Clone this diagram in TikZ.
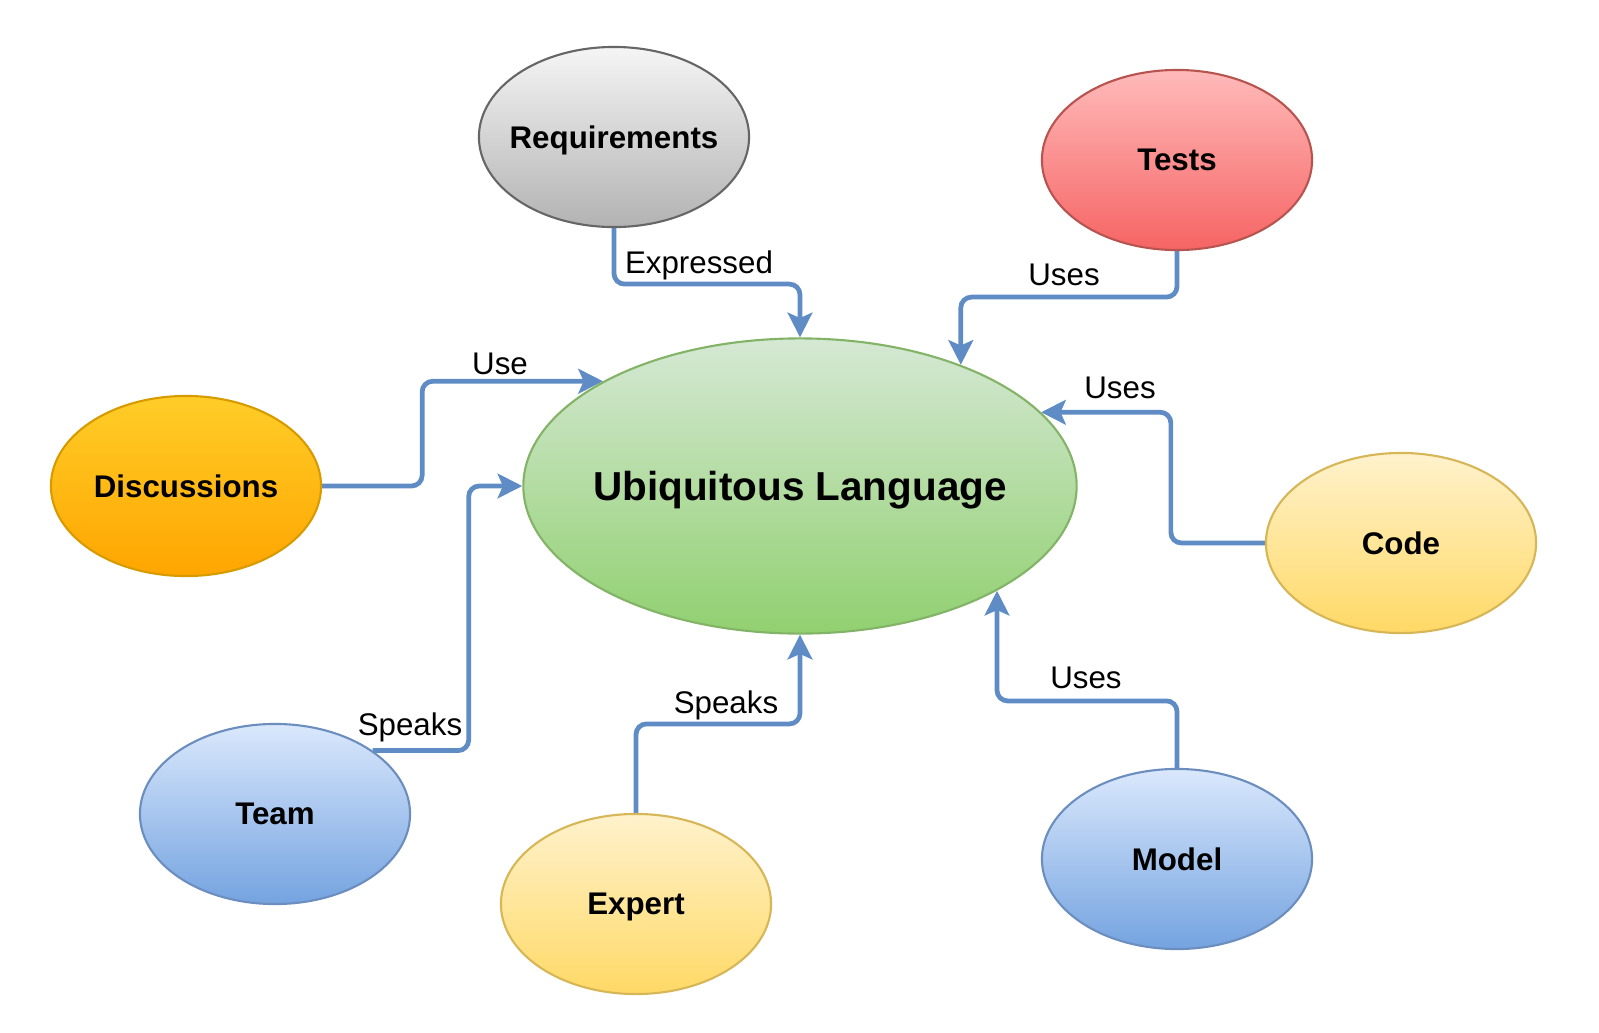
\documentclass[tikz,border=0pt]{standalone}
\usepackage{fontspec}
\setmainfont{Liberation Sans}
\usepackage{tikz}
\usetikzlibrary{shapes.geometric, arrows.meta}
\pgfdeclarelayer{edgelayer}
\pgfdeclarelayer{nodelayer}
\pgfsetlayers{edgelayer,nodelayer,main}
\definecolor{linkblue}{HTML}{5F8CC4}
\tikzstyle{topic}=[ellipse, line width=0.6pt, inner xsep=-4pt, inner ysep=0pt, text depth=0pt, minimum width=2.7cm, minimum height=1.8cm, font=\fontsize{8.9}{10}\selectfont\bfseries]
\tikzstyle{greytopic}=[topic, draw=black!60, top color=black!4, bottom color=black!30]
\tikzstyle{redtopic}=[topic, draw={rgb,255:red,184;green,84;blue,80}, top color={rgb,255:red,255;green,186;blue,186}, bottom color={rgb,255:red,246;green,100;blue,100}]
\tikzstyle{orangetopic}=[topic, draw={rgb,255:red,215;green,155;blue,0}, top color={rgb,255:red,255;green,205;blue,40}, bottom color={rgb,255:red,255;green,165;blue,0}]
\tikzstyle{yellowtopic}=[topic, draw={rgb,255:red,214;green,182;blue,86}, top color={rgb,255:red,255;green,242;blue,204}, bottom color={rgb,255:red,255;green,217;blue,102}]
\tikzstyle{bluetopic}=[topic, draw={rgb,255:red,108;green,142;blue,191}, top color={rgb,255:red,218;green,232;blue,252}, bottom color={rgb,255:red,116;green,163;blue,224}]
\tikzstyle{greentopic}=[topic, draw={rgb,255:red,130;green,179;blue,102}, top color={rgb,255:red,213;green,232;blue,212}, bottom color={rgb,255:red,145;green,208;blue,112}, inner xsep=-6pt, minimum width=5.53cm, minimum height=2.95cm, font=\fontsize{11.5}{13}\selectfont\bfseries]
\tikzstyle{link}=[draw=linkblue, line width=1.35pt, rounded corners=3pt, -{Stealth[length=7pt, width=7pt, inset=1.5pt]}]
\tikzstyle{linklabel}=[inner sep=0pt, anchor=base, font=\fontsize{8.9}{10}\selectfont]

\begin{document}
\begin{tikzpicture}[x=0.01cm, y=-0.01cm]
	\useasboundingbox (0,0) rectangle (1599,1033);
	\begin{pgfonlayer}{nodelayer}
		\node [style=greytopic] (req) at (614,137) {Requirements};
		\node [style=redtopic] (tests) at (1177,160) {Tests};
		\node [style=orangetopic] (disc) at (186,486) {Discussions};
		\node [style=greentopic] (ul) at (800,486) {Ubiquitous Language};
		\node [style=yellowtopic] (code) at (1401,543) {Code};
		\node [style=bluetopic] (team) at (275,814) {Team};
		\node [style=yellowtopic] (expert) at (636,904) {Expert};
		\node [style=bluetopic] (model) at (1177,859) {Model};
	\end{pgfonlayer}
	\begin{pgfonlayer}{edgelayer}
		\draw [style=link] (req.south) -- ++(0,56) -| (ul.north);
		\draw [style=link] (tests.south) -- ++(0,46) -| (ul.37.7);
		\draw [style=link] (disc.east) -- ++(100,0) |- (ul.152.6);
		\draw [style=link] (team.33) -- ++(96,0) |- (ul.west);
		\draw [style=link] (code.west) -- ++(-94,0) |- (ul.17.5);
		\draw [style=link] (expert.north) -- ++(0,-89) -| (ul.south);
		\draw [style=link] (model.north) -- ++(0,-67) -| (ul.-28.3);
	\end{pgfonlayer}
	% edge labels
	\node [style=linklabel] (expressed) at (699,273) {Expressed};
	\node [style=linklabel] (testsuses) at (1064,285) {Uses};
	\node [style=linklabel] (discuse) at (500,374) {Use};
	\node [style=linklabel] (teamspeaks) at (410,735) {Speaks};
	\node [style=linklabel] (codeuses) at (1120,398) {Uses};
	\node [style=linklabel] (expertspeaks) at (726,713) {Speaks};
	\node [style=linklabel] (modeluses) at (1086,688) {Uses};
\end{tikzpicture}
\end{document}
